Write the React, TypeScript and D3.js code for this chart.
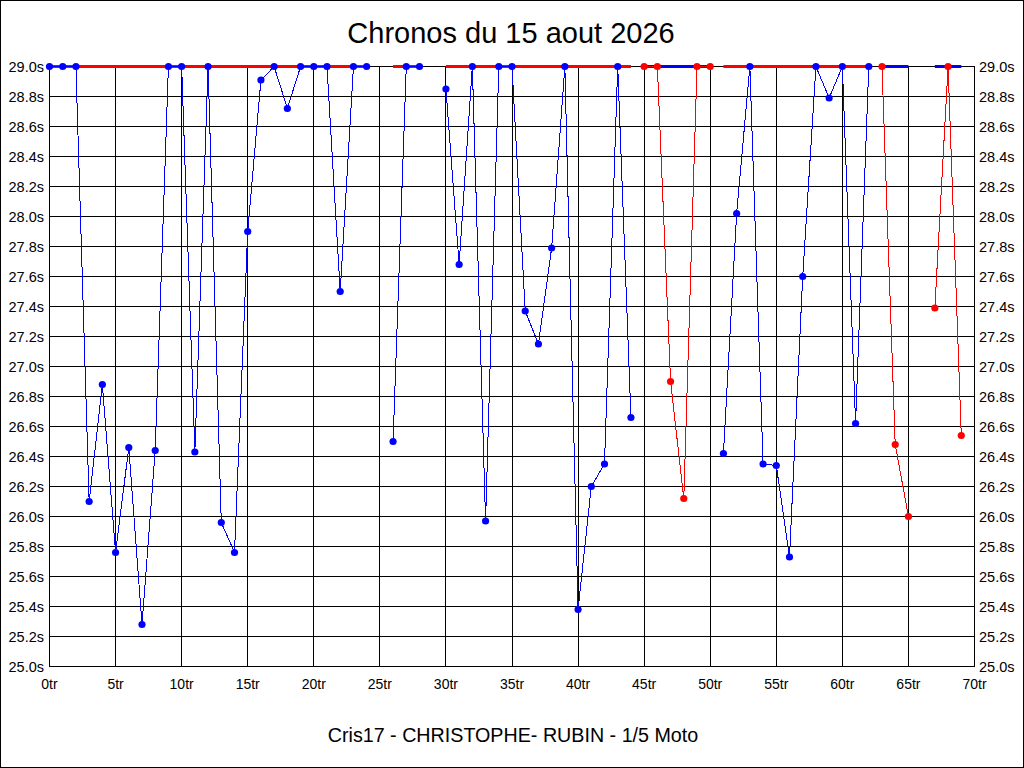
import React, { useRef, useEffect } from "react";
import * as d3 from "d3";

// lap times in seconds, index = lap number, null = no lap recorded
const lapTimes: (number | null)[] = [
    29.0, 29.0, 29.0, 26.10, 26.88, 25.76, 26.46, 25.28, 26.44, 29.0,
    29.0, 26.43, 29.0, 25.96, 25.76, 27.90, 28.91, 29.0, 28.72, 29.0,
    29.0, 29.0, 27.50, 29.0, 29.0, null, 26.50, 29.0, 29.0, null,
    28.85, 27.68, 29.0, 25.97, 29.0, 29.0, 27.37, 27.15, 27.79, 29.0,
    25.38, 26.20, 26.35, 29.0, 26.66, 29.0, 29.0, 26.90, 26.12, 29.0,
    29.0, 26.42, 28.02, 29.0, 26.35, 26.34, 25.73, 27.60, 29.0, 28.79,
    29.0, 26.62, 29.0, 29.0, 26.48, 26.00, null, 27.39, 29.0, 26.54,
];

// laps drawn in red, all others are blue
const redLaps = [45, 46, 47, 48, 49, 50, 63, 64, 65, 67, 68, 69];

const xTicks = [0, 5, 10, 15, 20, 25, 30, 35, 40, 45, 50, 55, 60, 65, 70];
const yTicks = [
    25.0, 25.2, 25.4, 25.6, 25.8, 26.0, 26.2, 26.4, 26.6, 26.8, 27.0,
    27.2, 27.4, 27.6, 27.8, 28.0, 28.2, 28.4, 28.6, 28.8, 29.0,
];

const title = "Chronos du 15 aout 2026";
const subtitle = "Cris17 - CHRISTOPHE- RUBIN - 1/5 Moto";

const BLUE = "#0000ff";
const RED = "#ff0000";
const FONT = "'Liberation Sans', Arial, sans-serif";

interface LapPoint {
    lap: number;
    time: number;
    color: string;
}

export default function App() {
    const ref = useRef<SVGSVGElement | null>(null);

    useEffect(() => {
        const width = 1024;
        const height = 768;

        d3.select(ref.current).selectAll("*").remove();

        const svg = d3
            .select(ref.current)
            .attr("width", width)
            .attr("height", height);

        svg.append("rect")
            .attr("x", 0.5)
            .attr("y", 0.5)
            .attr("width", width - 1)
            .attr("height", height - 1)
            .attr("fill", "#fff")
            .attr("stroke", "#000");

        const x = d3.scaleLinear().domain([0, 70]).range([49.5, 974.5]);
        const y = d3.scaleLinear().domain([25, 29]).range([666.5, 66.5]);

        // grid
        const grid = svg.append("g").attr("shape-rendering", "crispEdges");
        grid.selectAll("line.h")
            .data(yTicks)
            .enter()
            .append("line")
            .attr("x1", x(0))
            .attr("x2", x(70))
            .attr("y1", (d) => y(d))
            .attr("y2", (d) => y(d))
            .attr("stroke", "#000");
        grid.selectAll("line.v")
            .data(xTicks)
            .enter()
            .append("line")
            .attr("x1", (d) => x(d))
            .attr("x2", (d) => x(d))
            .attr("y1", y(29))
            .attr("y2", y(25))
            .attr("stroke", "#000");

        // tick labels
        const fmtY = (d: number) => d.toFixed(1) + "s";
        svg.append("g")
            .selectAll("text")
            .data(yTicks)
            .enter()
            .append("text")
            .attr("x", 44)
            .attr("y", (d) => y(d) + 5)
            .attr("text-anchor", "end")
            .attr("font-family", FONT)
            .attr("font-size", "14.5px")
            .attr("fill", "#000")
            .text(fmtY);
        svg.append("g")
            .selectAll("text")
            .data(yTicks)
            .enter()
            .append("text")
            .attr("x", 979)
            .attr("y", (d) => y(d) + 5)
            .attr("font-family", FONT)
            .attr("font-size", "14.5px")
            .attr("fill", "#000")
            .text(fmtY);
        svg.append("g")
            .selectAll("text")
            .data(xTicks)
            .enter()
            .append("text")
            .attr("x", (d) => x(d))
            .attr("y", 689)
            .attr("text-anchor", "middle")
            .attr("font-family", FONT)
            .attr("font-size", "14px")
            .attr("fill", "#000")
            .text((d) => d + "tr");

        // group the laps into runs of consecutive laps of the same colour
        const points: LapPoint[] = [];
        lapTimes.forEach((t, i) => {
            if (t !== null) points.push({ lap: i, time: t, color: redLaps.includes(i) ? RED : BLUE });
        });
        const runs: LapPoint[][] = [];
        points.forEach((p) => {
            const last = runs[runs.length - 1];
            const prev = last ? last[last.length - 1] : null;
            if (prev && prev.lap === p.lap - 1 && prev.color === p.color) last.push(p);
            else runs.push([p]);
        });

        // thick band along the top of each run, in the other colour
        svg.append("g")
            .selectAll("line")
            .data(runs)
            .enter()
            .append("line")
            .attr("x1", (r) => x(r[0].lap))
            .attr("x2", (r) => x(r[r.length - 1].lap))
            .attr("y1", y(29))
            .attr("y2", y(29))
            .attr("stroke", (r) => (r[0].color === BLUE ? RED : BLUE))
            .attr("stroke-width", 3);

        const line = d3.line<LapPoint>()
            .x((d) => x(d.lap))
            .y((d) => y(d.time));

        svg.append("g")
            .selectAll("path")
            .data(runs)
            .enter()
            .append("path")
            .attr("d", (r) => line(r))
            .attr("fill", "none")
            .attr("stroke", (r) => r[0].color)
            .attr("stroke-width", 1)
            .attr("shape-rendering", "crispEdges");

        svg.append("g")
            .selectAll("circle")
            .data(points)
            .enter()
            .append("circle")
            .attr("cx", (d) => x(d.lap))
            .attr("cy", (d) => y(d.time))
            .attr("r", 3.6)
            .attr("fill", (d) => d.color);

        // titles
        svg.append("text")
            .attr("x", 511)
            .attr("y", 43)
            .attr("text-anchor", "middle")
            .attr("font-family", FONT)
            .attr("font-size", "29px")
            .attr("fill", "#000")
            .text(title);
        svg.append("text")
            .attr("x", 513)
            .attr("y", 742)
            .attr("text-anchor", "middle")
            .attr("font-family", FONT)
            .attr("font-size", "19.7px")
            .attr("fill", "#000")
            .text(subtitle);
    }, []);

    return (
        <div style={{ position: "absolute", left: 0, top: 0 }}>
            <svg ref={ref} style={{ display: "block" }}></svg>
        </div>
    );
}
